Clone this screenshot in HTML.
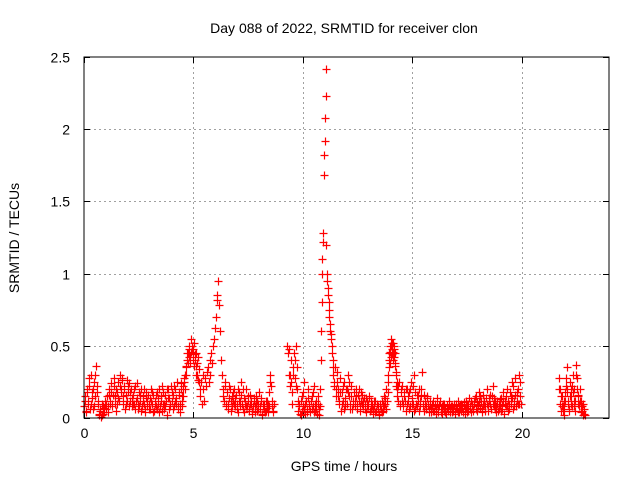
<!DOCTYPE html>
<html><head><meta charset="utf-8"><style>
body{margin:0;background:#fff}
svg{display:block;font-family:"Liberation Sans",sans-serif}
</style></head><body>
<svg id="chart" width="640" height="480">
<text x="344" y="33" font-size="14" text-anchor="middle">Day 088 of 2022, SRMTID for receiver clon</text>
<text x="344" y="471" font-size="14" text-anchor="middle">GPS time / hours</text>
<text x="19" y="238" font-size="14" text-anchor="middle" transform="rotate(-90 19 238)">SRMTID / TECUs</text>
<g id="grid"></g>
<g id="ticks"></g>
<g id="points"></g>
<rect x="84" y="57" width="525" height="361" fill="none" stroke="#000" stroke-width="1"/>
</svg>
<script>
const xTicks=[0,5,10,15,20];
const yTicks=[0,0.5,1,1.5,2,2.5];
const yTickLabels=["0","0.5","1","1.5","2","2.5"];
const segStart=[0,4.5,5.3,6.35,9.3,10.8,11.4,13.9,14.3,21.7,0.025,6.375,9.325,11.425,14.325,21.72,4.52,13.915];
const segStep=[0.05,0.04,0.04,0.05,0.05,0.02,0.05,0.03,0.05,0.04,0.05,0.05,0.05,0.05,0.05,0.04,0.04,0.03];
const seg1=[0.08,0.15,0.05,0.2,0.12,0.28,0.1,0.18,0.06,0.25,0.15,0.36,0.22,0.1,0.03,0.05,0.02,0.08,0.04,0.1,0.06,0.15,0.08,0.2,0.12,0.18,0.1,0.22,0.15,0.05,0.18,0.25,0.12,0.3,0.2,0.28,0.15,0.22,0.1,0.26,0.18,0.24,0.12,0.2,0.08,0.16,0.1,0.22,0.14,0.06,0.18,0.12,0.2,0.08,0.15,0.1,0.04,0.18,0.12,0.06,0.14,0.2,0.1,0.16,0.05,0.12,0.08,0.18,0.1,0.04,0.15,0.22,0.1,0.06,0.16,0.12,0.02,0.2,0.14,0.08,0.18,0.06,0.22,0.12,0.1,0.25,0.08,0.16,0.04,0.2,0.12];
const seg2=[0.15,0.2,0.25,0.3,0.35,0.4,0.45,0.42,0.5,0.38,0.55,0.48,0.44,0.52,0.4,0.36,0.45,0.3,0.42,0.25];
const seg3=[0.15,0.25,0.1,0.3,0.2,0.12,0.28,0.22,0.32,0.35,0.25,0.4,0.3,0.45,0.38,0.5,0.55,0.62,0.7,0.82,0.85,0.95,0.78,0.6,0.4,0.3];
const seg4=[0.2,0.12,0.25,0.08,0.18,0.1,0.22,0.05,0.15,0.12,0.2,0.08,0.16,0.1,0.04,0.18,0.12,0.25,0.06,0.14,0.1,0.2,0.08,0.12,0.05,0.16,0.1,0.03,0.12,0.08,0.15,0.05,0.1,0.18,0.06,0.12,0.02,0.08,0.1,0.05,0.12,0.04,0.08,0.3,0.22,0.12,0.05];
const seg5=[0.5,0.48,0.3,0.25,0.1,0.35,0.45,0.28,0.5,0.2,0.05,0.1,0.02,0.15,0.08,0.25,0.03,0.12,0.06,0.2,0.1,0.04,0.15,0.08,0.22,0.05,0.12,0.03,0.1,0.06];
const seg6=[0.2,0.4,0.6,0.8,1.0,1.1,1.22,1.28,1.68,1.82,1.92,2.08,2.23,2.42,1.2,1.0,0.95,0.9,0.85,0.8,0.75,0.7,0.65,0.6,0.58,0.55,0.5,0.45,0.4,0.35];
const seg7=[0.3,0.25,0.2,0.32,0.15,0.1,0.28,0.05,0.18,0.12,0.25,0.08,0.2,0.3,0.15,0.1,0.22,0.06,0.12,0.18,0.08,0.15,0.1,0.2,0.05,0.12,0.16,0.08,0.14,0.1,0.04,0.12,0.08,0.15,0.06,0.1,0.03,0.08,0.12,0.05,0.1,0.06,0.02,0.08,0.12,0.05,0.15,0.1,0.2,0.12];
const seg8=[0.25,0.35,0.45,0.5,0.42,0.55,0.48,0.52,0.4,0.5,0.45,0.38,0.3,0.25];
const seg9=[0.2,0.12,0.25,0.08,0.18,0.22,0.1,0.15,0.05,0.2,0.12,0.18,0.08,0.25,0.14,0.1,0.3,0.06,0.16,0.12,0.2,0.08,0.15,0.32,0.1,0.05,0.12,0.08,0.15,0.06,0.1,0.04,0.08,0.12,0.05,0.1,0.03,0.14,0.06,0.09,0.04,0.08,0.1,0.05,0.07,0.03,0.09,0.06,0.12,0.04,0.08,0.05,0.1,0.03,0.07,0.06,0.12,0.04,0.09,0.05,0.08,0.11,0.03,0.07,0.1,0.05,0.14,0.08,0.04,0.1,0.06,0.12,0.15,0.05,0.09,0.18,0.07,0.12,0.04,0.16,0.1,0.08,0.2,0.05,0.14,0.1,0.06,0.15,0.22,0.08,0.12,0.04,0.1,0.06,0.13,0.05,0.09,0.18,0.03,0.12,0.08,0.2,0.05,0.1,0.15,0.25,0.06,0.12,0.28,0.08,0.18,0.1,0.3,0.15];
const seg10=[0.28,0.2,0.1,0.05,0.15,0.08,0.02,0.12,0.22,0.35,0.18,0.1,0.05,0.25,0.15,0.08,0.3,0.12,0.2,0.05,0.37,0.28,0.15,0.1,0.2,0.08,0.12,0.05,0.1,0.03];
const seg1b=[0.12,0.04,0.18,0.1,0.22,0.06,0.3,0.14,0.2,0.08,0.3,0.18,0.12,0.02,0.06,0.01,0.1,0.03,0.07,0.12,0.1,0.04,0.16,0.1,0.24,0.08,0.16,0.28,0.1,0.2,0.1,0.14,0.22,0.18,0.26,0.1,0.2,0.06,0.16,0.12,0.22,0.08,0.18,0.14,0.1,0.2,0.06,0.12,0.24,0.1,0.08,0.16,0.05,0.12,0.2,0.06,0.14,0.08,0.16,0.1,0.06,0.12,0.18,0.04,0.1,0.16,0.06,0.14,0.2,0.08,0.12,0.05,0.18,0.1,0.08,0.2,0.14,0.06,0.1,0.22,0.12,0.16,0.08,0.2,0.14,0.06,0.18,0.1,0.24,0.08,0.15];
const seg4b=[0.15,0.22,0.1,0.18,0.06,0.14,0.2,0.12,0.08,0.18,0.1,0.14,0.06,0.2,0.12,0.08,0.16,0.1,0.2,0.04,0.12,0.08,0.15,0.06,0.1,0.12,0.05,0.08,0.14,0.04,0.1,0.12,0.06,0.08,0.14,0.03,0.1,0.06,0.04,0.12,0.07,0.1,0.18,0.25,0.08,0.04,0.1];
const seg5b=[0.45,0.3,0.22,0.4,0.18,0.3,0.4,0.22,0.35,0.12,0.08,0.03,0.12,0.05,0.18,0.06,0.1,0.04,0.14,0.08,0.05,0.12,0.06,0.18,0.04,0.1,0.06,0.15,0.02,0.08];
const seg7b=[0.22,0.35,0.15,0.25,0.2,0.12,0.18,0.1,0.22,0.06,0.14,0.2,0.1,0.18,0.25,0.06,0.15,0.1,0.18,0.12,0.2,0.06,0.16,0.12,0.08,0.18,0.1,0.12,0.06,0.14,0.08,0.1,0.14,0.05,0.12,0.08,0.06,0.12,0.04,0.1,0.08,0.03,0.1,0.06,0.04,0.1,0.08,0.14,0.06,0.18];
const seg9b=[0.15,0.22,0.1,0.2,0.12,0.08,0.18,0.12,0.2,0.1,0.15,0.06,0.2,0.1,0.22,0.05,0.18,0.1,0.08,0.16,0.05,0.12,0.2,0.08,0.16,0.1,0.06,0.14,0.1,0.04,0.12,0.07,0.1,0.05,0.09,0.06,0.1,0.04,0.08,0.12,0.06,0.03,0.08,0.1,0.04,0.07,0.05,0.1,0.06,0.08,0.04,0.07,0.09,0.05,0.1,0.04,0.08,0.06,0.1,0.07,0.04,0.09,0.06,0.12,0.04,0.1,0.06,0.12,0.08,0.05,0.1,0.14,0.06,0.11,0.08,0.12,0.15,0.06,0.1,0.12,0.05,0.14,0.1,0.08,0.12,0.16,0.06,0.1,0.14,0.06,0.08,0.12,0.05,0.1,0.08,0.14,0.06,0.12,0.1,0.15,0.08,0.12,0.06,0.18,0.1,0.14,0.22,0.08,0.16,0.12,0.2,0.1,0.25,0.1];
const seg10b=[0.2,0.1,0.15,0.08,0.05,0.12,0.06,0.18,0.28,0.2,0.12,0.06,0.15,0.2,0.1,0.22,0.18,0.08,0.12,0.3,0.2,0.1,0.16,0.08,0.12,0.04,0.08,0.02,0.06,0.02];
const seg2b=[0.22,0.28,0.2,0.36,0.3,0.45,0.38,0.48,0.42,0.46,0.5,0.4,0.48,0.36,0.44,0.3,0.38,0.26,0.34,0.2];
const seg8b=[0.3,0.4,0.38,0.46,0.5,0.44,0.52,0.46,0.42,0.48,0.36,0.32,0.22,0.2];
const segValues=[seg1,seg2,seg3,seg4,seg5,seg6,seg7,seg8,seg9,seg10,seg1b,seg4b,seg5b,seg7b,seg9b,seg10b,seg2b,seg8b];

const NS="http://www.w3.org/2000/svg";
const X0=84,X1=609,Y0=418,Y1=57,XMAX=24,YMAX=2.5;
function xs(t){return X0+(X1-X0)*t/XMAX;}
function ys(v){return Y0-(Y0-Y1)*v/YMAX;}
function mk(tag,attrs,parent){const e=document.createElementNS(NS,tag);for(const k in attrs)e.setAttribute(k,attrs[k]);parent.appendChild(e);return e;}
const grid=document.getElementById('grid'),ticks=document.getElementById('ticks'),pts=document.getElementById('points');
xTicks.forEach(t=>{
  const x=Math.round(xs(t))+0.5;
  if(t>0){const g=mk('line',{x1:x,x2:x,y1:Y1,y2:Y0,stroke:'#a0a0a0','stroke-dasharray':'2,3'},grid);
  
  }
  const tk=mk('path',{d:`M${x},${Y0}v-6M${x},${Y1}v6`,stroke:'#000'},ticks);
  
  
  const lb=mk('text',{x:x,y:Y0+20,'font-size':14,'text-anchor':'middle'},ticks);lb.textContent=String(t);
  
  
});
yTicks.forEach((v,i)=>{
  const y=Math.round(ys(v))+0.5;
  if(v>0&&v<YMAX){const g=mk('line',{x1:X0,x2:X1,y1:y,y2:y,stroke:'#a0a0a0','stroke-dasharray':'2,3'},grid);
  
  }
  const tk=mk('path',{d:`M${X0},${y}h6M${X1},${y}h-6`,stroke:'#000'},ticks);
  
  
  const lb=mk('text',{x:X0-14,y:y+5,'font-size':14,'text-anchor':'end'},ticks);lb.textContent=yTickLabels[i];
  
  
});
let d='';
segValues.forEach((vals,s)=>{vals.forEach((v,i)=>{
  const x=Math.round(xs(segStart[s]+segStep[s]*i))+0.5,y=Math.round(ys(v))+0.5;
  d+=`M${x-4},${y}h8M${x},${y-4}v8`;
});});
const p=mk('path',{d:d,stroke:'#ff0000','stroke-width':1.2,fill:'none'},pts);


</script>
</body></html>
